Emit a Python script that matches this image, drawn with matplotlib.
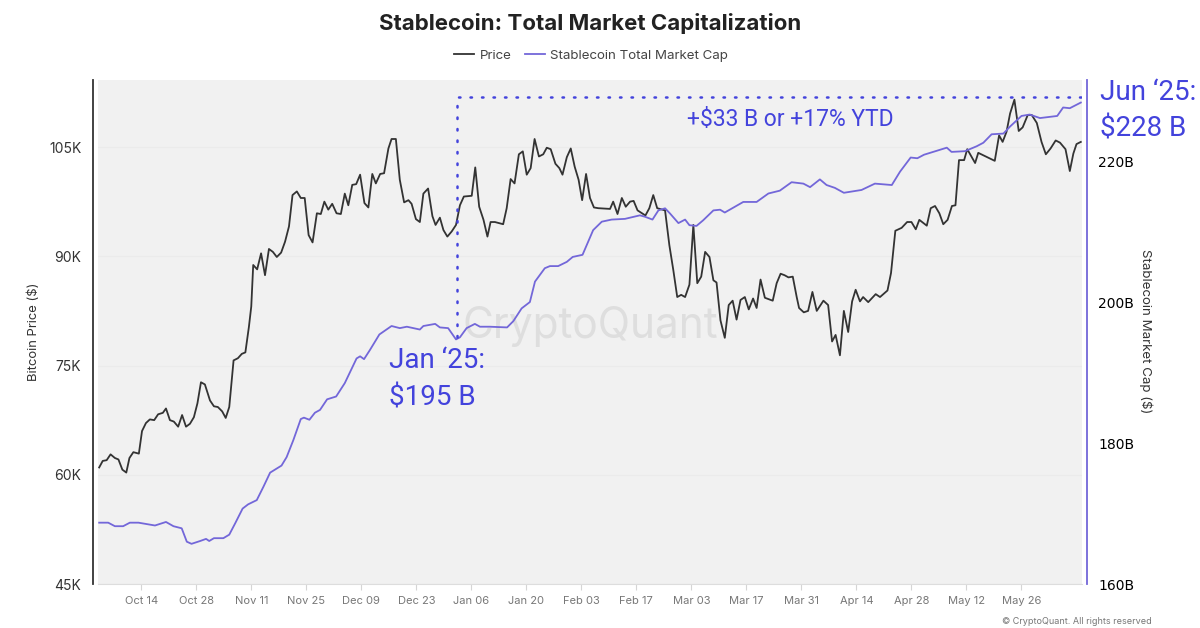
import matplotlib
matplotlib.use('Agg')
import matplotlib.pyplot as plt
import matplotlib.dates as mdates
import numpy as np

# Days after 3 Oct 2024, Bitcoin price in $K
price_data = [
    (0.3, 61.0), (1.2, 61.9), (2.2, 62.0), (3.2, 62.8), (4.3, 62.3), (5.2, 62.1), (6.2, 60.7), (7.2, 60.3),
    (8.0, 62.3), (9.0, 63.1), (10.4, 62.9), (11.2, 66.0), (12.2, 67.1), (13.2, 67.6), (14.3, 67.5), (15.3, 68.3),
    (16.5, 68.5), (17.3, 69.1), (18.3, 67.5), (19.3, 67.3), (20.4, 66.6), (21.4, 68.2), (22.4, 66.6), (23.4, 67.0),
    (24.4, 67.9), (25.3, 69.8), (26.2, 72.7), (27.2, 72.4), (28.5, 70.2), (29.5, 69.4), (30.5, 69.3), (31.6, 68.7),
    (32.5, 67.8), (33.4, 69.3), (34.5, 75.7), (35.6, 76.0), (36.6, 76.6), (37.5, 76.8), (38.4, 80.3), (39.0, 83.1),
    (39.5, 88.8), (40.5, 88.2), (41.5, 90.4), (42.5, 87.4), (43.5, 91.0), (44.5, 90.6), (45.5, 89.9), (46.6, 90.5),
    (47.6, 92.0), (48.6, 94.1), (49.5, 98.4), (50.6, 98.9), (51.6, 98.0), (52.6, 98.0), (53.6, 92.9), (54.6, 91.9),
    (55.7, 95.9), (56.7, 95.8), (57.6, 97.5), (58.6, 96.4), (59.6, 97.2), (60.7, 95.9), (61.8, 95.8), (62.8, 98.6),
    (63.7, 97.0), (64.7, 99.8), (65.7, 99.9), (66.7, 101.2), (67.8, 97.3), (68.8, 96.7), (69.8, 101.3), (70.7, 100.0),
    (71.8, 101.3), (72.8, 101.4), (73.9, 104.8), (74.7, 106.1), (75.8, 106.1), (76.8, 100.5), (77.9, 97.4), (79.0, 97.7),
    (79.8, 97.2), (80.9, 95.1), (81.9, 94.7), (82.8, 98.6), (84.0, 99.3), (85.1, 95.5), (85.9, 94.3), (87.0, 95.3),
    (87.9, 93.6), (88.9, 92.7), (90.0, 93.4), (91.1, 94.3), (92.1, 97.0), (93.1, 98.2), (95.1, 98.3), (96.0, 102.2),
    (97.0, 96.8), (98.1, 95.0), (99.1, 92.7), (99.9, 94.7), (101.0, 94.7), (103.1, 94.4), (104.0, 96.6), (105.0, 100.6),
    (106.0, 100.0), (107.1, 104.0), (108.1, 104.4), (109.1, 101.2), (110.1, 102.1), (111.1, 106.1), (112.2, 103.7), (113.3, 104.0),
    (114.2, 104.9), (115.2, 104.7), (116.4, 102.7), (117.4, 102.1), (118.2, 101.2), (119.3, 103.6), (120.3, 104.8), (121.3, 102.3),
    (122.3, 100.5), (123.2, 97.7), (124.2, 101.3), (125.2, 98.0), (126.2, 96.7), (127.3, 96.6), (130.3, 96.5), (131.1, 97.5),
    (132.2, 95.8), (133.3, 98.0), (134.3, 96.8), (135.4, 97.5), (136.3, 97.6), (137.3, 96.3), (139.3, 95.6), (140.3, 96.6),
    (141.3, 98.4), (142.3, 96.6), (144.3, 96.3), (145.4, 91.5), (146.4, 88.1), (147.4, 84.4), (148.4, 84.7), (149.4, 84.4),
    (150.5, 86.1), (151.5, 94.3), (152.5, 86.3), (153.5, 87.2), (154.5, 90.6), (155.6, 89.9), (156.6, 86.7), (157.4, 86.4),
    (158.4, 81.2), (159.5, 78.8), (160.5, 83.3), (161.5, 83.9), (162.5, 81.3), (163.5, 84.0), (164.6, 84.4), (165.6, 82.7),
    (166.7, 84.2), (167.6, 82.9), (168.6, 86.8), (169.7, 84.3), (171.7, 83.9), (172.7, 86.3), (173.7, 87.6), (174.7, 87.4),
    (175.7, 87.1), (176.8, 87.2), (177.8, 84.4), (178.4, 82.9), (179.6, 82.3), (180.7, 82.5), (181.8, 85.1), (182.9, 82.5),
    (184.6, 83.9), (185.8, 83.3), (186.8, 78.3), (187.7, 79.2), (188.8, 76.4), (189.8, 82.5), (190.9, 79.6), (191.9, 83.8),
    (192.8, 85.4), (193.9, 83.8), (194.7, 84.4), (196.0, 83.7), (197.9, 84.8), (199.0, 84.4), (200.9, 85.3), (201.8, 87.7),
    (202.9, 93.5), (204.5, 93.9), (205.9, 94.7), (207.0, 94.7), (208.1, 93.7), (209.0, 95.0), (210.9, 94.2), (211.9, 96.6),
    (213.0, 96.9), (214.1, 95.9), (215.1, 94.4), (216.2, 95.0), (217.3, 96.9), (218.2, 97.0), (219.1, 103.2), (220.4, 103.2),
    (221.2, 104.7), (223.2, 102.8), (224.0, 104.2), (228.2, 103.1), (229.3, 106.6), (230.2, 105.7), (231.2, 107.1), (232.1, 109.6),
    (233.2, 111.5), (234.3, 107.2), (235.3, 107.7), (236.6, 109.4), (237.6, 109.4), (238.9, 108.3), (240.1, 105.7), (241.2, 104.0),
    (242.4, 104.8), (243.7, 105.9), (244.8, 105.6), (246.2, 104.7), (247.3, 101.7), (248.2, 104.1), (249.0, 105.4), (250.1, 105.7),
]

# Days after 3 Oct 2024, stablecoin market cap in $B
stable_data = [
    (0.3, 168.7), (2.6, 168.7), (4.3, 168.2), (6.4, 168.2), (8.1, 168.7), (10.3, 168.7), (12.4, 168.5), (14.5, 168.3),
    (17.3, 168.8), (19.2, 168.2), (21.3, 167.9), (22.6, 166.0), (23.8, 165.7), (26.0, 166.1), (27.5, 166.4), (28.3, 166.1),
    (29.5, 166.5), (31.9, 166.5), (33.4, 167.0), (34.9, 168.6), (36.8, 170.7), (38.2, 171.3), (40.4, 171.9), (42.1, 173.8),
    (43.8, 175.8), (46.7, 176.8), (48.0, 178.0), (49.7, 180.4), (51.6, 183.4), (52.4, 183.6), (53.8, 183.3), (55.2, 184.3),
    (56.5, 184.7), (58.3, 186.2), (60.6, 186.6), (62.8, 188.5), (65.8, 192.0), (66.7, 192.3), (67.7, 191.9), (69.2, 193.2),
    (71.6, 195.4), (74.7, 196.6), (76.8, 196.3), (78.6, 196.5), (81.9, 196.1), (82.8, 196.6), (85.8, 196.9), (87.0, 196.4),
    (89.1, 196.3), (91.1, 194.7), (92.1, 195.0), (93.8, 196.3), (95.9, 196.9), (97.2, 196.5), (99.7, 196.5), (104.1, 196.4),
    (105.7, 197.3), (107.8, 199.1), (109.9, 200.0), (111.2, 202.9), (113.7, 204.8), (115.0, 205.1), (117.1, 205.1), (119.3, 205.7),
    (120.8, 206.4), (123.3, 206.7), (126.0, 210.2), (128.2, 211.4), (130.7, 211.7), (134.1, 211.8), (137.9, 212.3), (139.2, 212.1),
    (141.1, 211.7), (142.6, 213.0), (144.3, 213.3), (145.5, 212.6), (147.7, 211.2), (149.4, 211.7), (150.5, 210.9), (152.3, 210.8),
    (154.0, 211.6), (156.6, 213.0), (158.3, 213.1), (159.5, 212.7), (164.2, 214.2), (167.6, 214.2), (170.6, 215.4), (173.5, 215.8),
    (176.5, 217.0), (179.5, 216.8), (181.2, 216.3), (183.7, 217.4), (185.4, 216.6), (187.5, 216.2), (189.8, 215.5), (194.3, 215.9),
    (197.7, 216.8), (202.0, 216.6), (204.1, 218.5), (206.8, 220.5), (208.5, 220.4), (210.2, 220.9), (216.0, 221.9), (217.2, 221.3),
    (220.6, 221.4), (223.6, 222.1), (225.3, 222.6), (227.4, 223.8), (230.4, 223.9), (232.1, 224.9), (235.0, 226.4), (237.1, 226.6),
    (239.7, 226.1), (244.1, 226.4), (245.6, 227.6), (247.3, 227.5), (250.1, 228.3),
]

# Axis helpers
def to_xy(rows, start):
    rows = np.array(rows)
    return start + rows[:, 0], rows[:, 1]

# Text placed in figure pixels
def put_text(fig, px, py, label, **kwargs):
    fig.text(px / 1200, 1 - py / 628, label, **kwargs)

# Plot both series in one chart
def plot_chart():
    start = mdates.date2num(np.datetime64('2024-10-03'))
    end = start + 250.4
    annot_color = '#4343dc'  # Annotation blue
    line_color = '#7367d9'   # Market cap line

    fig, ax = plt.subplots(figsize=(12, 6.28), dpi=100)
    fig.subplots_adjust(left=98 / 1200, right=1082 / 1200, top=1 - 80 / 628, bottom=1 - 584 / 628)
    ax.set_facecolor('#f1f1f1')
    ax2 = ax.twinx()

    x, y = to_xy(price_data, start)
    line1, = ax.plot(x, y, color='#333333', linewidth=1.3, label='Price')
    x, y = to_xy(stable_data, start)
    line2, = ax2.plot(x, y, color=line_color, linewidth=1.3, label='Stablecoin Total Market Cap')

    # Dotted bracket from January to June
    jan_x = start + 91.4
    ax2.plot([jan_x, jan_x, end], [195, 229.1, 229.1], color=annot_color, linewidth=1.8,
             linestyle=(0, (0.6, 4.0)), dash_capstyle='round', zorder=5)

    ax.set_xlim(start, end)
    ax.set_ylim(45, 114.2)
    ax2.set_ylim(160, 231.5)

    ax.set_xticks(np.arange(start + 11, start + 240, 14))
    ax.xaxis.set_major_formatter(mdates.DateFormatter('%b %d'))
    ax.set_yticks([45, 60, 75, 90, 105])
    ax.set_yticklabels(['45K', '60K', '75K', '90K', '105K'], fontsize=10, fontfamily='Inter', color='#333333')
    ax2.set_yticks([160, 180, 200, 220])
    ax2.set_yticklabels(['160B', '180B', '200B', '220B'], fontsize=9.5, fontfamily='Inter', color='#333333')
    ax.grid(axis='y', color='#ebebeb', linewidth=0.8)
    ax.set_axisbelow(True)

    ax.tick_params(axis='x', length=4, color='#d5d5d5', labelsize=8, labelcolor='#777777', pad=5)
    ax.tick_params(axis='y', length=0, pad=12)
    ax2.tick_params(axis='y', length=0, pad=8)
    for label in ax.get_xticklabels():
        label.set_fontfamily('Inter')

    for spine in ['top', 'right', 'left']:
        ax.spines[spine].set_visible(False)
    ax.spines['bottom'].set_color('#dddddd')
    for spine in ['top', 'bottom']:
        ax2.spines[spine].set_visible(False)
    ax2.spines['left'].set_position(('outward', 3.6))
    ax2.spines['left'].set_color('#333333')
    ax2.spines['left'].set_linewidth(1.3)
    ax2.spines['right'].set_position(('outward', 3.6))
    ax2.spines['right'].set_color(line_color)
    ax2.spines['right'].set_linewidth(1.3)

    ax.text(0.5, 0.51, 'CryptoQuant', transform=ax.transAxes, ha='center', va='center',
            fontsize=30.5, fontfamily='Inter', color='#dedede', zorder=0)

    put_text(fig, 590, 23, 'Stablecoin: Total Market Capitalization', ha='center', va='center',
             fontsize=16, fontweight='bold', fontfamily='Inter', color='#222222')
    fig.legend(handles=[line1, line2], loc='center', bbox_to_anchor=(591 / 1200, 1 - 56 / 628), ncol=2, frameon=False,
               prop={'family': 'Inter', 'size': 9.6}, handlelength=1.5, handletextpad=0.4, columnspacing=1.0,
               labelcolor='#444444')

    put_text(fig, 34, 332, 'Bitcoin Price ($)', rotation=90, ha='center', va='center',
             fontsize=9.4, fontfamily='Inter', color='#333333')
    put_text(fig, 1146, 331, 'Stablecoin Market Cap ($)', rotation=270, ha='center', va='center',
             fontsize=9.6, fontfamily='Inter', color='#333333')

    put_text(fig, 1100, 92, 'Jun ‘25:', ha='left', va='center', fontsize=20, fontfamily='Roboto', color=annot_color)
    put_text(fig, 1100, 129, '$228 B', ha='left', va='center', fontsize=20, fontfamily='Roboto', color=annot_color)
    put_text(fig, 389, 360, 'Jan ‘25:', ha='left', va='center', fontsize=20, fontfamily='Roboto', color=annot_color)
    put_text(fig, 389, 398, '$195 B', ha='left', va='center', fontsize=20, fontfamily='Roboto', color=annot_color)
    put_text(fig, 790, 119, '+$33 B or +17% YTD', ha='center', va='center', fontsize=16.5, fontfamily='Roboto', color=annot_color)
    put_text(fig, 1152, 621, '© CryptoQuant. All rights reserved', ha='right', va='center',
             fontsize=6.5, fontfamily='Inter', color='#777777')

    fig.savefig('out.png', dpi=100)
    plt.close(fig)

plot_chart()
